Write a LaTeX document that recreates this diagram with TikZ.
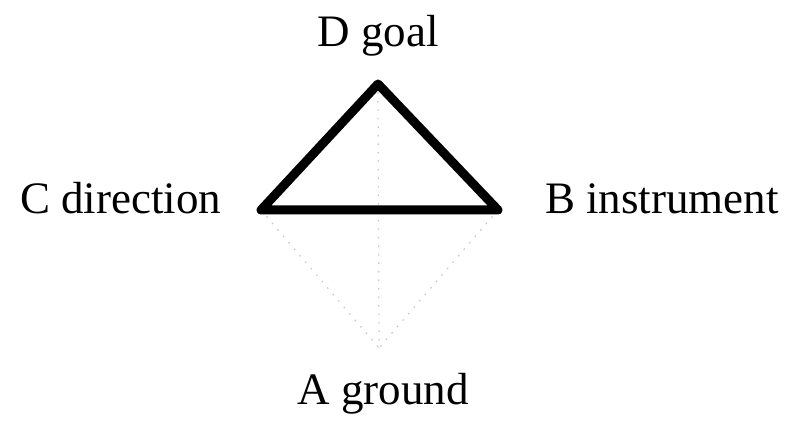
\documentclass[tikz,border=0pt]{standalone}
\usepackage{fontspec}
\setmainfont{Liberation Serif}
\begin{document}
\begin{tikzpicture}[x=1pt,y=-1pt,
  lbl/.style={inner sep=0pt,font=\fontsize{45}{50}\selectfont},
  thickedge/.style={line width=9pt,line cap=round,line join=round,black},
  faint/.style={line width=1.2pt,gray!45,dash pattern=on 1.5pt off 7pt}]
\useasboundingbox[fill=white] (0,0) rectangle (795,422);
\coordinate (D) at (378,84);
\coordinate (C) at (261,210);
\coordinate (B) at (498,210);
\coordinate (A) at (379,348);
\draw[faint] (C) -- (A);
\draw[faint] (B) -- (A);
\draw[faint] (D) -- (A);
\draw[thickedge] (C) -- (D) -- (B) -- cycle;
\node[lbl,anchor=base] (dl) at (378,47) {D goal};
\node[lbl,anchor=base west] (cl) at (20,214) {C direction};
\node[lbl,anchor=base west] (bl) at (545,214) {B instrument};
\node[lbl,anchor=base] (al) at (383,404) {A ground};
\end{tikzpicture}
\end{document}
